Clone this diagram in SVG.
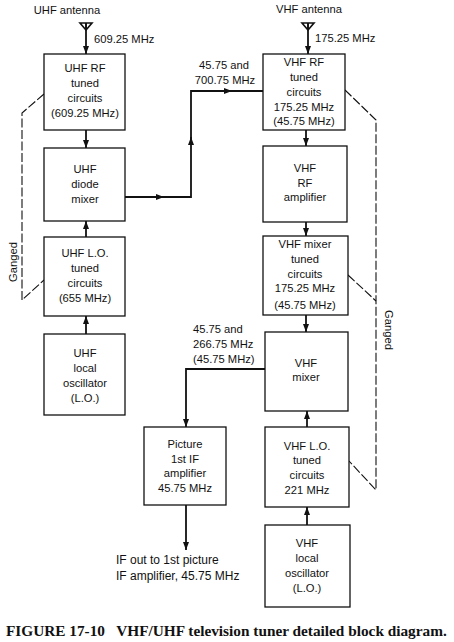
<svg xmlns="http://www.w3.org/2000/svg" width="454" height="642" viewBox="0 0 454 642">
<style>
.box{fill:#fff;stroke:#111;stroke-width:1.3}
.t{font-family:"Liberation Sans",Arial,sans-serif;font-size:11.2px;fill:#111;text-anchor:middle}
.l{font-family:"Liberation Sans",Arial,sans-serif;font-size:11.2px;fill:#111}
.c{fill:none;stroke:#111;stroke-width:1.8}
.g{fill:none;stroke:#111;stroke-width:1.1;stroke-dasharray:9,2.5}
.cap{font-family:"Liberation Serif","Times New Roman",serif;font-size:15.3px;font-weight:bold;fill:#111}
</style>
<defs>
<marker id="ah" viewBox="0 0 8 6" refX="8" refY="3" markerWidth="8" markerHeight="6" markerUnits="userSpaceOnUse" orient="auto">
<path d="M0,0 L8,3 L0,6 Z" fill="#111"/>
</marker>
<g id="ant"><path d="M-6,0 L6,0 L0,7 Z M0,0 V7" fill="none" stroke="#111" stroke-width="1.6"/></g>
</defs>

<g id="labels">
<text class="t" x="67" y="14">UHF antenna</text>
<text class="l" x="94" y="43">609.25 MHz</text>
<text class="t" x="309" y="13">VHF antenna</text>
<text class="l" x="315" y="42">175.25 MHz</text>
<text class="t" x="224" y="69">45.75 and</text>
<text class="t" x="225" y="84">700.75 MHz</text>
<text class="l" x="193" y="333">45.75 and</text>
<text class="l" x="193" y="348">266.75 MHz</text>
<text class="l" x="193" y="363">(45.75 MHz)</text>
<text class="l" x="116" y="564" style="font-size:12px">IF out to 1st picture</text>
<text class="l" x="116" y="580" style="font-size:12px">IF amplifier, 45.75 MHz</text>
<text class="t" transform="translate(17,262) rotate(-90)">Ganged</text>
<text class="t" transform="translate(385,330) rotate(90)">Ganged</text>
</g>

<g id="connectors">
<use href="#ant" x="86" y="23"/>
<use href="#ant" x="308" y="23"/>
<path class="c" d="M86,23 V54" marker-end="url(#ah)"/>
<path class="c" d="M308,23 V54" marker-end="url(#ah)"/>
<path class="c" d="M86,130 V148" marker-end="url(#ah)"/>
<path class="c" d="M86,237 V221" marker-end="url(#ah)"/>
<path class="c" d="M86,334 V316" marker-end="url(#ah)"/>
<path class="c" d="M125,197 H164" marker-end="url(#ah)"/>
<path class="c" d="M160,197 H191 V137" marker-end="url(#ah)"/>
<path class="c" d="M191,141 V91 H232" marker-end="url(#ah)"/>
<path class="c" d="M228,91 H263"/>
<path class="c" d="M306,130 V146" marker-end="url(#ah)"/>
<path class="c" d="M306,222 V236" marker-end="url(#ah)"/>
<path class="c" d="M306,315 V332" marker-end="url(#ah)"/>
<path class="c" d="M307,427 V411" marker-end="url(#ah)"/>
<path class="c" d="M307,525 V507" marker-end="url(#ah)"/>
<path class="c" d="M265,369 H186 V427" marker-end="url(#ah)"/>
<path class="c" d="M186,505 V550" marker-end="url(#ah)"/>
<path class="g" d="M44,94 L22,113 V300 L44,280"/>
<path class="g" d="M345,90 L376,120 V490 L349,461"/>
<path class="g" d="M348,275 L376,301"/>
</g>

<g id="uhf-rf"><rect class="box" x="44" y="54" width="81" height="76"/>
<text class="t" x="85" y="72">UHF RF</text><text class="t" x="85" y="87">tuned</text><text class="t" x="85" y="102">circuits</text><text class="t" x="85" y="117">(609.25 MHz)</text></g>
<g id="uhf-mixer"><rect class="box" x="44" y="148" width="81" height="73"/>
<text class="t" x="85" y="173">UHF</text><text class="t" x="85" y="188">diode</text><text class="t" x="85" y="203">mixer</text></g>
<g id="uhf-lo-tuned"><rect class="box" x="44" y="237" width="81" height="79"/>
<text class="t" x="85" y="257">UHF L.O.</text><text class="t" x="85" y="272">tuned</text><text class="t" x="85" y="287">circuits</text><text class="t" x="85" y="302">(655 MHz)</text></g>
<g id="uhf-lo"><rect class="box" x="44" y="334" width="81" height="81"/>
<text class="t" x="85" y="357">UHF</text><text class="t" x="85" y="372">local</text><text class="t" x="85" y="387">oscillator</text><text class="t" x="85" y="402">(L.O.)</text></g>

<g id="vhf-rf"><rect class="box" x="263" y="54" width="82" height="76"/>
<text class="t" x="304" y="66">VHF RF</text><text class="t" x="304" y="81">tuned</text><text class="t" x="304" y="96">circuits</text><text class="t" x="304" y="111">175.25 MHz</text><text class="t" x="304" y="125">(45.75 MHz)</text></g>
<g id="vhf-rf-amp"><rect class="box" x="263" y="146" width="84" height="76"/>
<text class="t" x="305" y="172">VHF</text><text class="t" x="305" y="187">RF</text><text class="t" x="305" y="201">amplifier</text></g>
<g id="vhf-mixer-tuned"><rect class="box" x="263" y="236" width="85" height="79"/>
<text class="t" x="305" y="248">VHF mixer</text><text class="t" x="305" y="263">tuned</text><text class="t" x="305" y="278">circuits</text><text class="t" x="305" y="292">175.25 MHz</text><text class="t" x="305" y="309">(45.75 MHz)</text></g>
<g id="vhf-mixer"><rect class="box" x="265" y="332" width="83" height="79"/>
<text class="t" x="306" y="367">VHF</text><text class="t" x="306" y="381">mixer</text></g>
<g id="picture-if"><rect class="box" x="144" y="427" width="82" height="78"/>
<text class="t" x="185" y="448">Picture</text><text class="t" x="185" y="463">1st IF</text><text class="t" x="185" y="477">amplifier</text><text class="t" x="185" y="492">45.75 MHz</text></g>
<g id="vhf-lo-tuned"><rect class="box" x="265" y="427" width="84" height="80"/>
<text class="t" x="307" y="450">VHF L.O.</text><text class="t" x="307" y="464">tuned</text><text class="t" x="307" y="479">circuits</text><text class="t" x="307" y="494">221 MHz</text></g>
<g id="vhf-lo"><rect class="box" x="265" y="525" width="85" height="82"/>
<text class="t" x="307" y="547">VHF</text><text class="t" x="307" y="562">local</text><text class="t" x="307" y="577">oscillator</text><text class="t" x="307" y="592">(L.O.)</text></g>

<text class="cap" x="6" y="636" xml:space="preserve">FIGURE 17-10   VHF/UHF television tuner detailed block diagram.</text>
</svg>
